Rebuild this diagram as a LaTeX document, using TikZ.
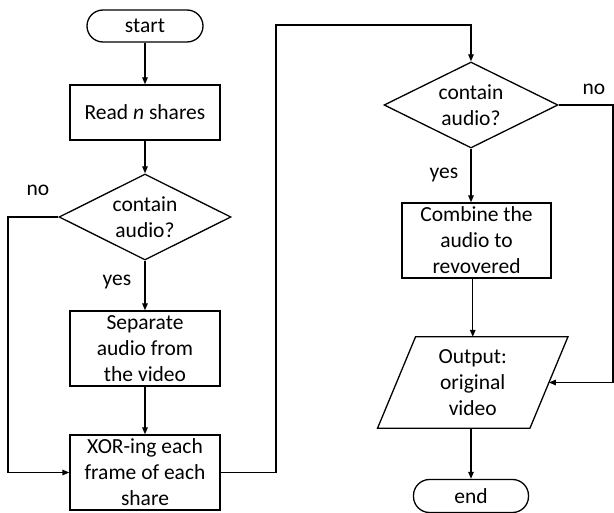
\documentclass[tikz,border=0pt]{standalone}
\usepackage{fontspec}
\setmainfont{Carlito}
\usetikzlibrary{arrows.meta,shapes.geometric}
\begin{document}
\begin{tikzpicture}[x=1pt,y=-1pt,
  every node/.style={font=\fontsize{21.5}{26}\selectfont, align=center, inner sep=0pt},
  ln/.style={line width=1.3pt},
  arr/.style={ln, -{Triangle[length=7pt,width=5.5pt]}},
  term/.style={draw, ln, rounded corners=16pt, minimum width=116pt, minimum height=32pt},
  proc/.style={draw, ln, rectangle, minimum width=150pt},
  dec/.style={draw, ln, diamond, shape aspect=2, minimum width=172pt, minimum height=86pt},
  lbl/.style={}
]
\useasboundingbox (0,0) rectangle (614,513);

\node[term] (start) at (145,26) {start};
\node[proc, minimum height=55pt] (read) at (145,112.5) {Read \textit{n} shares};
\node[dec] (d1) at (145,217) {contain\\audio?};
\node[proc, minimum height=75pt] (sep) at (145,348.5) {Separate\\audio from\\the video};
\node[proc, minimum height=75pt] (xor) at (145,472.5) {XOR-ing each\\frame of each\\share};

\node[dec, minimum width=174pt] (d2) at (471,105) {contain\\audio?};
\node[proc, minimum width=149pt, minimum height=75pt] (comb) at (476.5,240.5) {Combine the\\audio to\\revovered};
\node[minimum width=152pt, minimum height=91pt] (out) at (472.75,382.5) {Output:\\original\\video};
\draw[ln] ([xshift=19pt]out.north west) -- ([xshift=19pt]out.north east)
  -- ([xshift=-19pt]out.south east) -- ([xshift=-19pt]out.south west) -- cycle;
\node[term, minimum width=115pt, minimum height=33pt] (end) at (471,496) {end};

\node[lbl] (no1) at (38,190) {no};
\node[lbl] (yes1) at (117,282) {yes};
\node[lbl] (no2) at (594,89) {no};
\node[lbl] (yes2) at (444,175) {yes};

\coordinate (nl) at (8,217);
\coordinate (c1) at (276,25);
\coordinate (nr) at (613,105);

\draw[arr] (start) -- (read);
\draw[arr] (read) -- (d1);
\draw[arr] (d1.south) -- (sep.north);
\draw[arr] (sep) -- (xor);
\draw[arr] (d1.west) -- (nl) |- (xor.west);
\draw[arr] (xor.east) -| (c1) -| (d2.north);
\draw[arr] (d2.south) -- (d2.south |- comb.north);
\draw[arr] (out.north |- comb.south) -- (out.north);
\draw[arr] (end.north |- out.south) -- (end.north);
\draw[arr] (d2.east) -- (nr) |- (out.east);
\end{tikzpicture}
\end{document}
